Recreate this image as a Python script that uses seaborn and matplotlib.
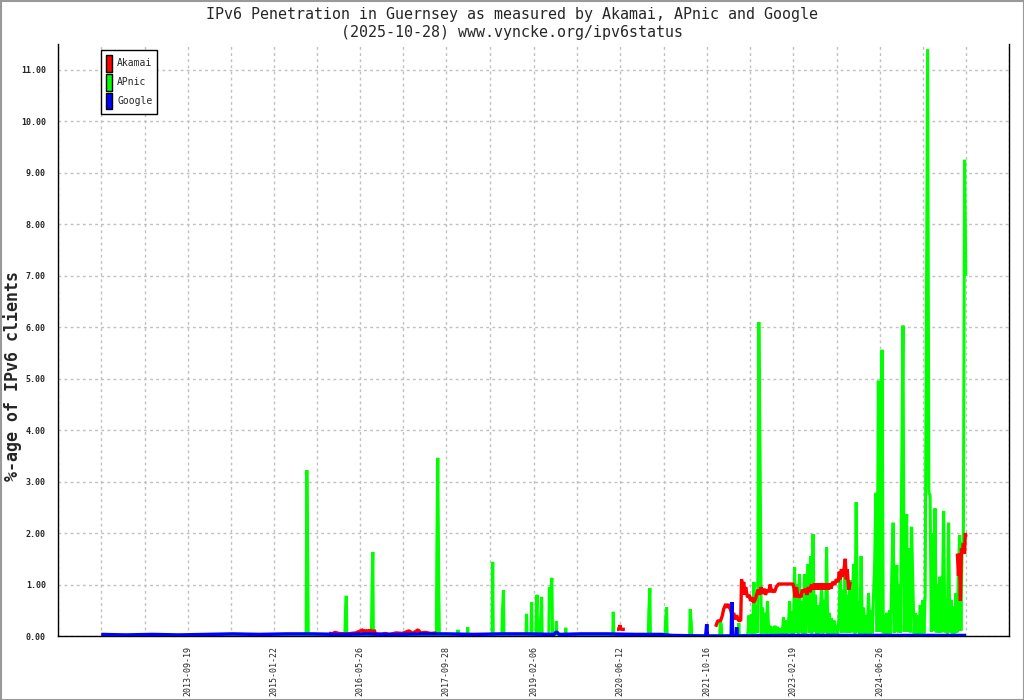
import numpy as np
import pandas as pd
import matplotlib
matplotlib.use("Agg")
import matplotlib.pyplot as plt
from matplotlib.patches import Patch, Rectangle
import seaborn as sns

# ---------------- text ----------------
TITLE_1 = "IPv6 Penetration in Guernsey as measured by Akamai, APnic and Google"
TITLE_2 = "(2025-10-28) www.vyncke.org/ipv6status"
Y_LABEL = "%-age of IPv6 clients"
SERIES = ["Akamai", "APnic", "Google"]
COLORS = ["#ff0000", "#00ff00", "#0000ff"]

x_tick_labels = ["2013-09-19", "2015-01-22", "2016-05-26", "2017-09-28", "2019-02-06",
                 "2020-06-12", "2021-10-16", "2023-02-19", "2024-06-26"]
y_ticks = [0, 1, 2, 3, 4, 5, 6, 7, 8, 9, 10, 11]

# ---------------- data ----------------
# Akamai (nan = gap in the data)
akamai_dates = [
    "2015-12-01", "2015-12-15", "2016-01-05", "2016-01-25", "2016-03-10", "2016-05-01",
    "2016-06-10", "2016-06-17", "2016-06-24", "2016-07-01", "2016-07-08", "2016-07-15",
    "2016-07-22", "2016-08-10", "2016-08-14", "2016-08-20", "2016-09-22", "2016-10-15",
    "2016-11-07", "2016-12-16", "2017-01-20", "2017-02-28", "2017-03-20", "2017-04-20",
    "2017-05-05", "2017-06-01", "2017-07-01", "2017-08-01", "2017-08-15",
    "2020-05-24", "2020-06-05", "2020-06-10", "2020-06-15", "2020-07-08", "2020-07-15",
    "2021-12-06", "2021-12-17", "2022-01-03", "2022-01-12", "2022-01-20", "2022-02-01",
    "2022-02-10", "2022-02-18", "2022-03-01", "2022-03-10", "2022-03-18", "2022-03-25",
    "2022-04-04", "2022-04-15", "2022-04-27", "2022-05-02", "2022-05-08", "2022-05-14",
    "2022-05-20", "2022-05-25", "2022-06-05", "2022-06-15", "2022-06-22", "2022-07-01",
    "2022-07-09", "2022-07-18", "2022-07-26", "2022-08-04", "2022-08-12", "2022-08-20",
    "2022-08-29", "2022-09-07", "2022-09-15", "2022-09-25", "2022-10-02", "2022-10-12",
    "2022-10-19", "2022-10-28", "2022-11-05", "2022-11-15", "2022-11-28", "2023-02-19",
    "2023-02-25", "2023-03-02", "2023-03-10", "2023-03-19", "2023-03-28", "2023-04-04",
    "2023-04-12", "2023-04-21", "2023-04-30", "2023-05-08", "2023-05-16", "2023-05-25",
    "2023-06-03", "2023-06-11", "2023-06-20", "2023-06-28", "2023-07-05", "2023-07-12",
    "2023-07-21", "2023-07-28", "2023-08-04", "2023-08-11", "2023-08-18", "2023-08-25",
    "2023-09-01", "2023-09-08", "2023-09-15", "2023-09-22", "2023-10-01", "2023-10-14",
    "2023-10-22", "2023-11-02", "2023-11-08", "2023-11-14", "2023-11-20", "2023-11-25",
    "2023-12-05", "2023-12-12", "2023-12-18", "2023-12-23", "2024-01-01", "2024-01-09",
    "2024-01-15",
    "2025-09-09", "2025-09-15", "2025-09-21", "2025-09-26", "2025-10-02", "2025-10-08",
    "2025-10-13", "2025-10-20", "2025-10-24", "2025-10-28",
]
akamai_values = [
    0.06, 0.04, 0.07, 0.05, 0.04, 0.06,
    0.12, 0.05, 0.12, 0.05, 0.12, 0.06,
    0.12, 0.05, 0.12, 0.04, 0.03, 0.05,
    0.03, 0.06, 0.05, 0.10, 0.05, 0.12,
    0.06, 0.07, 0.05, 0.06, np.nan,
    0.13, 0.13, 0.21, 0.13, 0.13, np.nan,
    0.18, 0.29, 0.30, 0.39, 0.52, 0.62,
    0.55, 0.62, 0.50, 0.38, 0.45, 0.32,
    0.40, 0.30, 0.30, 1.10, 0.85, 1.05,
    0.80, 0.95, 0.75, 0.80, 0.68, 0.75,
    0.65, 0.70, 0.80, 0.90, 0.80, 0.95,
    0.82, 0.92, 0.80, 0.90, 0.85, 1.00,
    0.85, 0.90, 0.85, 0.95, 1.01, 1.01,
    0.90, 0.75, 0.95, 0.75, 0.80, 0.75,
    0.90, 0.85, 0.92, 0.80, 0.95, 0.85,
    1.00, 0.90, 1.02, 0.90, 1.02, 0.90,
    1.02, 0.90, 1.02, 0.90, 1.02, 0.90,
    1.02, 0.90, 1.02, 0.92, 1.05, 1.00,
    1.10, 1.05, 1.25, 1.10, 1.30, 1.15,
    1.30, 1.50, 1.10, 1.30, 0.90, 1.05,
    np.nan,
    1.60, 1.17, 1.60, 0.68, 1.70, 1.60,
    1.80, 1.60, 2.00, 1.93,
]

# APnic: sparse spikes until spring 2022
apnic_early_dates = [
    "2012-05-16",
    "2015-07-24", "2015-07-28", "2015-08-02", "2015-08-05",
    "2016-02-29", "2016-03-03", "2016-03-08", "2016-03-11",
    "2016-07-29", "2016-08-01", "2016-08-06", "2016-08-09",
    "2017-08-02", "2017-08-05", "2017-08-10", "2017-08-16", "2017-08-19",
    "2017-12-01", "2017-12-03", "2017-12-06",
    "2018-01-25", "2018-01-27", "2018-01-30",
    "2018-06-15", "2018-06-18", "2018-06-21",
    "2018-08-09", "2018-08-12", "2018-08-18", "2018-08-21",
    "2018-12-24", "2018-12-27", "2018-12-30",
    "2019-01-22", "2019-01-25", "2019-01-28",
    "2019-02-18", "2019-02-21", "2019-02-25", "2019-02-28",
    "2019-03-15", "2019-03-18", "2019-03-23", "2019-03-26",
    "2019-05-03", "2019-05-06", "2019-05-12", "2019-05-20", "2019-05-24",
    "2019-06-12", "2019-06-15", "2019-06-18",
    "2019-08-04", "2019-08-07", "2019-08-10",
    "2020-04-30", "2020-05-03", "2020-05-06",
    "2020-11-18", "2020-11-21", "2020-11-27", "2020-11-30",
    "2021-02-21", "2021-02-24", "2021-03-02", "2021-03-05",
    "2021-07-11", "2021-07-14", "2021-07-20", "2021-07-23",
    "2021-12-29", "2022-01-01", "2022-01-07", "2022-01-10",
    "2022-04-13", "2022-04-16", "2022-04-19",
]
apnic_early_values = [
    0.0,
    0.0, 3.22, 1.60, 0.0,
    0.0, 0.39, 0.78, 0.0,
    0.0, 0.82, 1.63, 0.0,
    0.0, 1.73, 3.46, 0.78, 0.0,
    0.0, 0.12, 0.0,
    0.0, 0.17, 0.0,
    0.0, 1.44, 0.0,
    0.0, 0.45, 0.89, 0.0,
    0.0, 0.43, 0.0,
    0.0, 0.66, 0.0,
    0.0, 0.41, 0.80, 0.0,
    0.0, 0.39, 0.76, 0.0,
    0.0, 0.95, 0.74, 1.13, 0.0,
    0.0, 0.29, 0.0,
    0.0, 0.16, 0.0,
    0.0, 0.47, 0.0,
    0.0, 0.47, 0.93, 0.0,
    0.0, 0.29, 0.56, 0.0,
    0.0, 0.52, 0.27, 0.0,
    0.0, 0.31, 0.21, 0.0,
    0.0, 0.25, 0.0,
]

# APnic: weekly values from June 2022 on (one value per week)
apnic_2022_start = "2022-06-06"
apnic_2022 = [0.02, 0.4, 0.05, 0.42, 0.04, 1.05, 0.05, 0.6, 0.06, 6.1, 3.5, 0.04, 0.55, 0.05, 0.45,
              0.03, 0.68, 0.05, 0.2, 0.03, 0.18, 0.05, 0.2, 0.04, 0.18, 0.05, 0.15, 0.03, 0.05, 0.36]
apnic_2023_start = "2023-01-02"
apnic_2023 = [0.05, 0.3, 0.05, 0.2, 0.68, 0.05, 0.48, 0.04, 1.34, 0.06, 1.0, 0.05, 1.2, 0.06, 0.68,
              0.04, 1.2, 0.05, 0.6, 1.4, 0.06, 1.55, 0.05, 1.98, 0.08, 0.8, 0.04, 0.6, 0.05, 0.55,
              1.0, 0.05, 0.7, 0.06, 1.72, 0.04, 0.45, 0.05, 0.35, 0.04, 0.3, 0.05, 0.2, 0.05, 0.35,
              1.14, 0.06, 0.9, 0.07, 1.4, 0.06, 0.8]
apnic_2024_start = "2024-01-01"
apnic_2024 = [0.06, 1.08, 0.07, 0.7, 1.4, 0.05, 2.6, 0.07, 0.68, 0.04, 1.55, 0.05, 0.55, 0.04, 0.4,
              0.05, 0.83, 0.04, 0.5, 0.05, 0.75, 1.42, 2.78, 0.08, 4.96, 2.78, 0.08, 5.56, 0.05, 0.4,
              0.04, 0.45, 0.05, 0.5, 0.05, 1.3, 2.2, 0.06, 0.8, 1.38, 0.07, 1.0, 0.06, 3.29, 6.03,
              0.08, 1.6, 2.37, 0.08, 1.7, 0.07, 2.12, 1.0]
apnic_2025_start = "2025-01-06"
apnic_2025 = [0.05, 0.44, 0.04, 0.4, 0.04, 0.6, 0.05, 0.7, 0.05, 0.8, 5.9, 11.4, 2.78, 2.74, 0.08,
              2.0, 0.1, 2.48, 0.07, 1.0, 0.06, 1.15, 0.07, 0.7, 2.43, 0.07, 0.7, 0.05, 2.2, 0.07,
              0.7, 0.05, 0.57, 0.05, 0.83, 0.07, 1.3, 1.96, 0.1, 1.77, 1.85, 9.25, 7.0]

# Google
google_dates = [
    "2012-05-16", "2012-10-01", "2013-03-01", "2013-08-01", "2014-01-01", "2014-06-01",
    "2014-11-01", "2015-04-01", "2015-09-01", "2016-02-01", "2016-07-01", "2016-12-01",
    "2017-05-01", "2017-10-01", "2018-03-01", "2018-08-01", "2019-01-01", "2019-06-01",
    "2019-06-15", "2019-07-01", "2019-11-01", "2020-04-01", "2020-09-01", "2021-02-01",
    "2021-04-01", "2021-10-10", "2021-10-16", "2021-10-20", "2022-03-04", "2022-03-08",
    "2022-03-12", "2022-04-01", "2022-04-04", "2022-04-07", "2023-01-01", "2024-01-01",
    "2025-01-01", "2025-10-28",
]
google_values = [
    0.03, 0.02, 0.03, 0.02, 0.03, 0.04,
    0.03, 0.04, 0.04, 0.03, 0.04, 0.03,
    0.04, 0.04, 0.03, 0.04, 0.04, 0.03,
    0.08, 0.03, 0.04, 0.04, 0.03, 0.03,
    0.01, 0.0, 0.23, 0.0, 0.0, 0.66,
    0.0, 0.0, 0.17, 0.0, 0.01, 0.01,
    0.01, 0.01,
]


def frame(dates, values):
    d = pd.DataFrame({"date": pd.to_datetime(dates), "value": values})
    d["seg"] = d["value"].isna().cumsum()
    return d.dropna()


akamai_df = frame(akamai_dates, akamai_values)
apnic_parts = [frame(apnic_early_dates, apnic_early_values)]
for start, vals in [(apnic_2022_start, apnic_2022), (apnic_2023_start, apnic_2023),
                    (apnic_2024_start, apnic_2024), (apnic_2025_start, apnic_2025)]:
    apnic_parts.append(frame(pd.date_range(start, periods=len(vals), freq="7D"), vals))
apnic_df = pd.concat(apnic_parts, ignore_index=True)
apnic_df["seg"] = 0
google_df = frame(google_dates, google_values)

# ---------------- style ----------------
sns.set_style("white")
plt.rcParams["font.family"] = ["DejaVu Sans Mono", "DejaVu Sans"]

fig = plt.figure(figsize=(10.24, 7.0), dpi=100)
ax = fig.add_axes([58.3 / 1024, (700 - 636) / 700, (1009.3 - 58.3) / 1024, (636 - 44) / 700])

line_kw = dict(estimator=None, units="seg", sort=False, legend=False, ax=ax,
               solid_joinstyle="bevel", solid_capstyle="butt")
sns.lineplot(data=apnic_df, x="date", y="value", color=COLORS[1], lw=2.2, zorder=3, **line_kw)
sns.lineplot(data=akamai_df, x="date", y="value", color=COLORS[0], lw=2.4, zorder=4, **line_kw)
sns.lineplot(data=google_df, x="date", y="value", color=COLORS[2], lw=2.5, zorder=5, **line_kw)

# x axis: labelled ticks plus unlabelled half-steps
lab = pd.to_datetime(x_tick_labels)
half = pd.Timedelta(days=245)
ticks = [lab[0] - 3 * half, lab[0] - 2 * half, lab[0] - half]
tick_text = ["", "", ""]
for i, t in enumerate(lab):
    ticks.append(t)
    tick_text.append(x_tick_labels[i])
    if i < len(lab) - 1:
        ticks.append(t + (lab[i + 1] - t) / 2)
        tick_text.append("")
ticks += [lab[-1] + half, lab[-1] + 2 * half, lab[-1] + 3 * half]
tick_text += ["", "", ""]
ax.set_xlim(ticks[0], ticks[-1])
ax.set_xticks(ticks)
ax.set_xticklabels(tick_text)

ax.set_ylim(0, 11.5)
ax.set_yticks(y_ticks)
ax.set_yticklabels([f"{v:.2f}" for v in y_ticks])
ax.set_xlabel("")
ax.set_ylabel("")

ax.tick_params(axis="x", direction="inout", length=7, width=1, color="black",
               labelsize=6, pad=4, labelrotation=90)
ax.tick_params(axis="y", direction="out", length=8, width=1, color="black",
               labelsize=6, pad=1)
for t in ax.get_yticklabels():
    t.set_fontweight("bold")

ax.grid(True, color="#c0c0c0", linestyle=(0, (2, 2.4)), lw=1)
ax.set_axisbelow(True)
for s in ["left", "bottom", "right"]:
    ax.spines[s].set_visible(True)
    ax.spines[s].set_color("black")
    ax.spines[s].set_linewidth(1.0)
ax.spines["top"].set_visible(False)

handles = [Patch(facecolor=c, edgecolor="black", lw=1, label=s) for s, c in zip(SERIES, COLORS)]
leg = ax.legend(handles=handles, loc="upper left", bbox_to_anchor=(0.0449, 0.990),
                borderaxespad=0, fontsize=7, handlelength=0.6, handleheight=2.3,
                handletextpad=0.55, borderpad=0.5, labelspacing=0.2,
                fancybox=False, framealpha=1, edgecolor="black", shadow=False)
leg.get_frame().set_linewidth(1.0)

fig.text(0.5, 1 - 14 / 700, TITLE_1, ha="center", va="center", fontsize=10.8)
fig.text(0.5, 1 - 33 / 700, TITLE_2, ha="center", va="center", fontsize=10.8)
fig.text(12.5 / 1024, 1 - 376 / 700, Y_LABEL, rotation=90, ha="center", va="center",
         fontsize=12, fontweight="bold")

fig.patches.append(Rectangle((0.5 / 1024, 0.5 / 700), 1 - 1 / 1024, 1 - 1 / 700,
                             transform=fig.transFigure, fill=False,
                             edgecolor="#999999", lw=1.5))

fig.savefig("out.png", dpi=100)
